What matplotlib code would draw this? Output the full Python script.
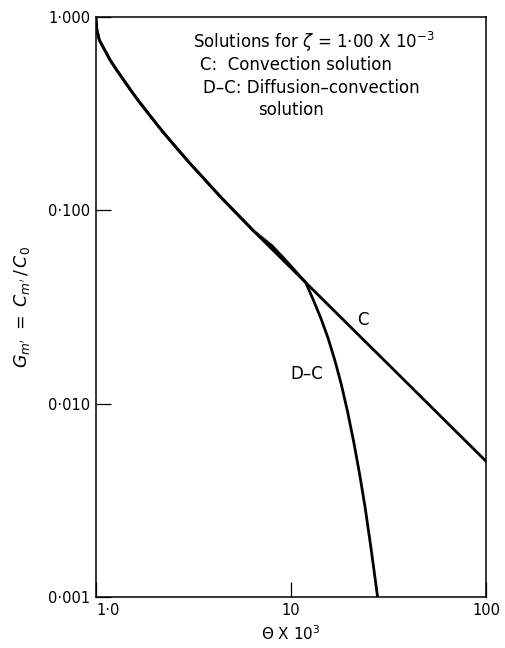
"""
Concentration decay vs. dimensionless time, convection vs.
diffusion-convection solution (zeta = 1.00e-3), log-log.
"""

import matplotlib
matplotlib.use('Agg')
import matplotlib.pyplot as plt

# Convection solution (C)
THETA_C = [1.0, 1.01, 1.04, 1.087, 1.18, 1.28, 1.5, 1.65, 1.85, 2.2, 2.5, 3.0, 4.4, 6.45,
           11.9, 23.3, 33.6, 100.0]
G_C = [0.98, 0.86, 0.76, 0.70, 0.60, 0.53, 0.421, 0.369, 0.318, 0.255, 0.219, 0.177, 0.116, 0.078,
       0.0423, 0.0216, 0.0150, 0.00504]

# Diffusion-convection solution (D-C): follows C, then breaks away past ~12
THETA_DC = [1.0, 1.01, 1.04, 1.087, 1.18, 1.28, 1.5, 1.65, 1.85, 2.2, 2.5, 3.0, 4.4, 6.45,
            8.0, 9.5, 11.9, 13.0, 14.2, 15.5, 16.8, 18.1, 19.5, 21.0, 22.5, 24.0, 25.7, 27.8]
G_DC = [0.98, 0.86, 0.76, 0.70, 0.60, 0.53, 0.421, 0.369, 0.318, 0.255, 0.219, 0.177, 0.116, 0.078,
        0.0655, 0.0545, 0.0423, 0.0345, 0.0278, 0.0218, 0.0167, 0.0126, 0.0091, 0.0063, 0.0043,
        0.0029, 0.0018, 0.001]

X_TICKS = [1, 10, 100]
X_TICK_LABELS = ['1·0', '10', '100']
Y_TICKS = [0.001, 0.01, 0.1, 1.0]
Y_TICK_LABELS = ['0·001', '0·010', '0·100', '1·000']

plt.rcParams['font.family'] = ['DejaVu Sans']


def main():
    fig = plt.figure(figsize=(5.05, 6.48), dpi=100)
    ax = fig.add_axes([96 / 505, 1 - 597 / 648, 390 / 505, 580 / 648])

    ax.plot(THETA_C, G_C, color='black', linewidth=2.0, solid_joinstyle='round')
    ax.plot(THETA_DC, G_DC, color='black', linewidth=2.0, solid_joinstyle='round')

    ax.set_xscale('log')
    ax.set_yscale('log')
    ax.set_xlim(1, 100)
    ax.set_ylim(0.001, 1.0)

    ax.set_xticks(X_TICKS)
    ax.set_xticklabels(X_TICK_LABELS)
    ax.set_yticks(Y_TICKS)
    ax.set_yticklabels(Y_TICK_LABELS)
    ax.minorticks_off()
    ax.tick_params(axis='both', direction='in', length=11, width=0.9,
                   labelsize=10.5, pad=4)
    ax.get_xticklabels()[0].set_horizontalalignment('left')

    for sp in ax.spines.values():
        sp.set_linewidth(1.1)

    ax.set_xlabel(r'$\Theta$ X 10$^3$', fontsize=11, labelpad=5)
    ax.set_ylabel(r"$G_{m'}\ =\ C_{m'}\,/\,C_0$", fontsize=12.5, labelpad=12)

    txt = dict(transform=ax.transAxes, fontsize=12, va='center', ha='left')
    ax.text(0.249, 0.957, r'Solutions for $\zeta$ = 1·00 X 10$^{-3}$', **txt)
    ax.text(0.267, 0.918, 'C:  Convection solution', **txt)
    ax.text(0.274, 0.878, 'D–C: Diffusion–convection', **txt)
    ax.text(0.415, 0.840, 'solution', **txt)

    ax.text(23.3, 0.0271, 'C', fontsize=12, ha='center', va='center')
    ax.text(12.0, 0.0143, 'D–C', fontsize=12, ha='center', va='center')

    fig.savefig('out.png', dpi=100)
    plt.close(fig)


if __name__ == '__main__':
    main()
